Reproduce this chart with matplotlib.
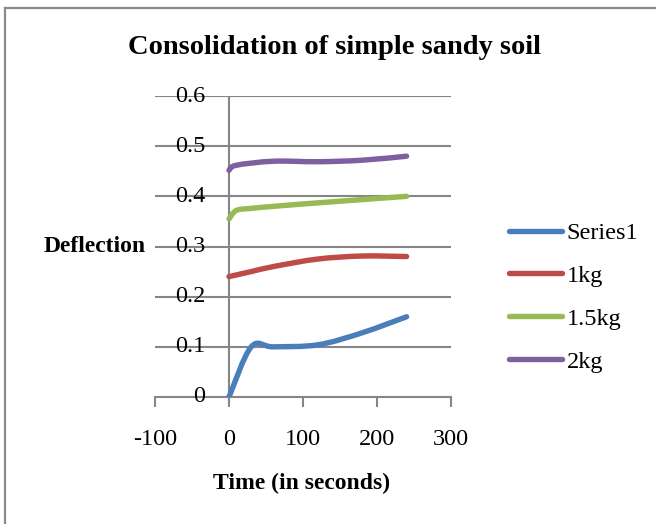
import matplotlib
matplotlib.use("Agg")
import matplotlib.pyplot as plt
from matplotlib.path import Path
from matplotlib.patches import PathPatch
from matplotlib.lines import Line2D
import numpy as np

# odczyty ugiecia w czasie dla kolejnych obciazen
czas_s1 = [0, 30, 60, 120, 180, 240]
ugiecie_s1 = [0.0, 0.1, 0.1, 0.104, 0.128, 0.16]

czas_1kg = [0, 30, 60, 120, 180, 240]
ugiecie_1kg = [0.24, 0.25, 0.26, 0.275, 0.281, 0.28]

czas_15kg = [0, 10, 30, 60, 120, 240]
ugiecie_15kg = [0.355, 0.372, 0.376, 0.38, 0.387, 0.4]

czas_2kg = [0, 10, 60, 120, 180, 240]
ugiecie_2kg = [0.452, 0.462, 0.47, 0.469, 0.472, 0.48]

nazwy = ["Series1", "1kg", "1.5kg", "2kg"]
kolory = ["#4A7EBB", "#BE4B48", "#98B954", "#7D60A0"]

x_ticki = [-100, 0, 100, 200, 300]
y_ticki = [0, 0.1, 0.2, 0.3, 0.4, 0.5, 0.6]
y_etykiety = ["0", "0.1", "0.2", "0.3", "0.4", "0.5", "0.6"]

plt.rcParams['font.family'] = ['Liberation Serif', 'DejaVu Serif']
ROZMIAR = 17.5


def gladkaSciezka(xs, ys):
    # wygladzona linia jak w excelu: krzywe beziera przez punkty pomiarowe
    p = np.column_stack([xs, ys]).astype(float)
    n = len(p)
    wierzcholki = [p[0]]
    kody = [Path.MOVETO]
    for i in range(n - 1):
        p0 = p[i - 1] if i > 0 else p[i]
        p3 = p[i + 2] if i + 2 < n else p[i + 1]
        c1 = p[i] + (p[i + 1] - p0) / 6.0
        c2 = p[i + 1] - (p3 - p[i]) / 6.0
        wierzcholki += [c1, c2, p[i + 1]]
        kody += [Path.CURVE4] * 3
    return Path(wierzcholki, kody)


fig = plt.figure(figsize=(6.56, 5.24), dpi=100)
ax = fig.add_axes([155 / 656, 1 - 397 / 524, 296 / 656, 301 / 524])
ax.set_xlim(-100, 300)
ax.set_ylim(0, 0.6)

for s in ["top", "right", "left"]:
    ax.spines[s].set_visible(False)
ax.spines["bottom"].set_color("#868686")
ax.spines["bottom"].set_linewidth(1.5)

# os y przechodzi przez zero
ax.axvline(0, color="#868686", lw=1.5, zorder=1)
for y in y_ticki[1:]:
    ax.axhline(y, color="#868686", lw=1.5, zorder=1)
ax.plot([0, 0], [0, -0.012], color="#868686", lw=1.5, clip_on=False)

ax.set_xticks(x_ticki)
ax.set_xticklabels([str(v) for v in x_ticki], fontsize=ROZMIAR)
ax.tick_params(axis="x", direction="out", length=7, width=1.5, color="#868686", pad=16)
ax.set_yticks([])

for y, et in zip(y_ticki, y_etykiety):
    ax.text(-32, y, et, ha="right", va="center", fontsize=ROZMIAR, zorder=3)

serie = [(czas_s1, ugiecie_s1), (czas_1kg, ugiecie_1kg),
         (czas_15kg, ugiecie_15kg), (czas_2kg, ugiecie_2kg)]
for (xs, ys), kol in zip(serie, kolory):
    ax.add_patch(PathPatch(gladkaSciezka(xs, ys), facecolor="none", edgecolor=kol,
                           lw=3.9, capstyle="round", joinstyle="round", zorder=4))

uchwyty = [Line2D([0], [0], color=k, lw=3.9, solid_capstyle="round") for k in kolory]
fig.legend(uchwyty, nazwy, loc="upper left", bbox_to_anchor=(509 / 656, 1 - 222 / 524),
           frameon=False, fontsize=ROZMIAR, handlelength=2.2, handletextpad=0.17,
           labelspacing=0.86, borderaxespad=0, borderpad=0)

fig.text(335 / 656, 1 - 47 / 524, "Consolidation of simple sandy soil",
         ha="center", va="center", fontsize=20.5, fontweight="bold")
fig.text(95 / 656, 1 - 246 / 524, "Deflection", ha="center", va="center",
         fontsize=17, fontweight="bold")
fig.text(302 / 656, 1 - 483 / 524, "Time (in seconds)", ha="center", va="center",
         fontsize=17, fontweight="bold")

# ramka wykresu
fig.add_artist(Line2D([5 / 656, 5 / 656], [0, 1 - 8 / 524], color="#8a8a8a", lw=1.6))
fig.add_artist(Line2D([5 / 656, 1], [1 - 8 / 524, 1 - 8 / 524], color="#8a8a8a", lw=1.6))

fig.savefig("out.png", dpi=100)
